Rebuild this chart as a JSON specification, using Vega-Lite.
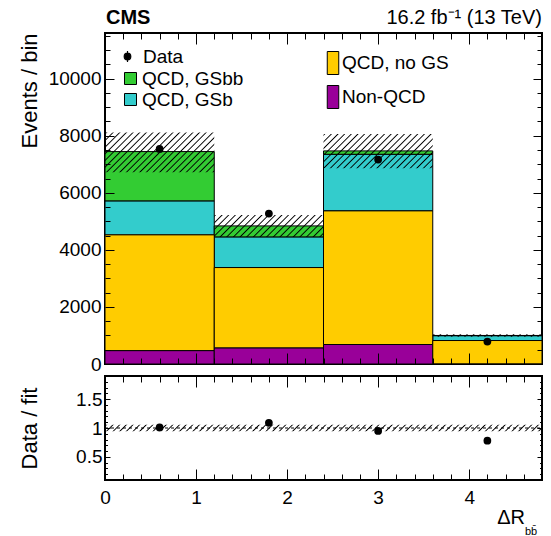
{
"$schema":"https://vega.github.io/schema/vega-lite/v6.json",
"padding":{"left":16,"top":7,"right":13,"bottom":0},
"spacing":12,
"bounds":"flush",
"datasets":{
"stack":[
{"lo":0,"hi":1.2,"comp":"Non-QCD","count":470},
{"lo":0,"hi":1.2,"comp":"QCD, no GS","count":4056},
{"lo":0,"hi":1.2,"comp":"QCD, GSb","count":1191},
{"lo":0,"hi":1.2,"comp":"QCD, GSbb","count":1727},
{"lo":1.2,"hi":2.4,"comp":"Non-QCD","count":567},
{"lo":1.2,"hi":2.4,"comp":"QCD, no GS","count":2813},
{"lo":1.2,"hi":2.4,"comp":"QCD, GSb","count":1075},
{"lo":1.2,"hi":2.4,"comp":"QCD, GSbb","count":385},
{"lo":2.4,"hi":3.6,"comp":"Non-QCD","count":683},
{"lo":2.4,"hi":3.6,"comp":"QCD, no GS","count":4683},
{"lo":2.4,"hi":3.6,"comp":"QCD, GSb","count":1984},
{"lo":2.4,"hi":3.6,"comp":"QCD, GSbb","count":118},
{"lo":3.6,"hi":4.8,"comp":"Non-QCD","count":5},
{"lo":3.6,"hi":4.8,"comp":"QCD, no GS","count":818},
{"lo":3.6,"hi":4.8,"comp":"QCD, GSb","count":170},
{"lo":3.6,"hi":4.8,"comp":"QCD, GSbb","count":7}
],
"bins":[
{"lo":0,"hi":1.2,"mid":0.6,"data":7538,"ratio":1.01,"ulo":6720,"uhi":8110},
{"lo":1.2,"hi":2.4,"mid":1.8,"data":5272,"ratio":1.09,"ulo":4455,"uhi":5226},
{"lo":2.4,"hi":3.6,"mid":3.0,"data":7163,"ratio":0.95,"ulo":6860,"uhi":8064},
{"lo":3.6,"hi":4.8,"mid":4.2,"data":788,"ratio":0.78,"ulo":955,"uhi":1045}
],
"band":[{"lo":0,"hi":4.8,"rlo":0.945,"rhi":1.055,"ref":1}]
},
"config":{
"font":"Liberation Sans",
"view":{"stroke":"black","strokeWidth":2},
"axis":{"labelColor":"black","labelFont":"Liberation Sans","labelFontSize":19,"titleColor":"black","titleFont":"Liberation Sans","titleFontSize":22,"titleFontWeight":"normal","labelOverlap":false,"labelFlush":false},
"legend":{"labelFont":"Liberation Sans","labelFontSize":19,"labelColor":"black","padding":0,"symbolOpacity":1}
},
"vconcat":[
{
"width":437,"height":331,
"resolve":{"scale":{"fill":"independent"},"axis":{"x":"independent","y":"independent"}},
"layer":[
{
"data":{"name":"stack"},
"transform":[{"stack":"count","groupby":["lo"],"as":["c0","c1"]},{"filter":{"field":"comp","oneOf":["QCD, GSbb","QCD, GSb"]}}],
"mark":{"type":"rect","stroke":"black","strokeWidth":1},
"encoding":{
"x":{"field":"lo","type":"quantitative","scale":{"domain":[0,4.8],"nice":false,"zero":false},"axis":{"orient":"bottom","values":[1,2,3,4],"labels":false,"title":null,"domain":false,"ticks":false,"grid":true,"gridColor":"black","gridOpacity":1,"gridWidth":1,"gridDash":[11,309],"zindex":2}},
"x2":{"field":"hi"},
"y":{"field":"c0","type":"quantitative","stack":null,"scale":{"domain":[0,11600],"nice":false,"zero":false},"axis":{"orient":"left","values":[0,2000,4000,6000,8000,10000],"format":"d","labelPadding":4,"domain":false,"ticks":false,"grid":true,"gridColor":"black","gridOpacity":1,"gridWidth":1,"gridDash":[9,419],"zindex":2,"title":"Events / bin","titleAnchor":"end","titleX":-69,"titleBaseline":"alphabetic"}},
"y2":{"field":"c1"},
"fill":{"field":"comp","type":"nominal","scale":{"domain":["QCD, GSbb","QCD, GSb"],"range":["#33cc33","#33cccc"]},"legend":{"orient":"none","legendX":16,"legendY":36,"title":null,"symbolType":"square","symbolSize":144,"symbolStrokeColor":"black","symbolStrokeWidth":1,"labelOffset":2,"rowPadding":1}}
}
},
{
"data":{"name":"stack"},
"transform":[{"stack":"count","groupby":["lo"],"as":["c0","c1"]},{"filter":{"field":"comp","oneOf":["QCD, no GS","Non-QCD"]}}],
"mark":{"type":"rect","stroke":"black","strokeWidth":1},
"encoding":{
"x":{"field":"lo","type":"quantitative","scale":{"domain":[0,4.8],"nice":false,"zero":false},"axis":{"orient":"bottom","values":[0.2,0.4,0.6,0.8,1.2,1.4,1.6,1.8,2.2,2.4,2.6,2.8,3.2,3.4,3.6,3.8,4.2,4.4,4.6],"labels":false,"title":null,"domain":false,"ticks":false,"grid":true,"gridColor":"black","gridOpacity":1,"gridWidth":1,"gridDash":[6,319],"zindex":2}},
"x2":{"field":"hi"},
"y":{"field":"c0","type":"quantitative","stack":null,"scale":{"domain":[0,11600],"nice":false,"zero":false},"axis":{"orient":"left","values":[500,1000,1500,2500,3000,3500,4500,5000,5500,6500,7000,7500,8500,9000,9500,10500,11000,11500],"labels":false,"title":null,"domain":false,"ticks":false,"grid":true,"gridColor":"black","gridOpacity":1,"gridWidth":1,"gridDash":[5,427],"zindex":2}},
"y2":{"field":"c1"},
"fill":{"field":"comp","type":"nominal","scale":{"domain":["QCD, no GS","Non-QCD"],"range":["#ffcc00","#990099"]},"legend":{"orient":"none","legendX":216,"legendY":18,"title":null,"symbolType":"M-0.5,-1H0.5V1H-0.5Z","symbolSize":529,"symbolStrokeColor":"black","symbolStrokeWidth":1,"labelOffset":-3,"rowPadding":6}}
}
},
{
"data":{"name":"bins"},
"transform":[{"filter":"datum.lo == 0"}],
"mark":{"type":"rect","strokeWidth":0,"fill":{"gradient":"linear","x1":0,"y1":0,"x2":1.3439,"y2":0.4879,"stops":[{"offset":0,"color":"#0000"},{"offset":0.008,"color":"#000"},{"offset":0.016,"color":"#0000"},{"offset":0.04,"color":"#0000"},{"offset":0.048,"color":"#000"},{"offset":0.056,"color":"#0000"},{"offset":0.08,"color":"#0000"},{"offset":0.088,"color":"#000"},{"offset":0.096,"color":"#0000"},{"offset":0.12,"color":"#0000"},{"offset":0.128,"color":"#000"},{"offset":0.136,"color":"#0000"},{"offset":0.16,"color":"#0000"},{"offset":0.168,"color":"#000"},{"offset":0.176,"color":"#0000"},{"offset":0.2,"color":"#0000"},{"offset":0.208,"color":"#000"},{"offset":0.216,"color":"#0000"},{"offset":0.24,"color":"#0000"},{"offset":0.248,"color":"#000"},{"offset":0.256,"color":"#0000"},{"offset":0.28,"color":"#0000"},{"offset":0.288,"color":"#000"},{"offset":0.296,"color":"#0000"},{"offset":0.32,"color":"#0000"},{"offset":0.328,"color":"#000"},{"offset":0.336,"color":"#0000"},{"offset":0.36,"color":"#0000"},{"offset":0.368,"color":"#000"},{"offset":0.376,"color":"#0000"},{"offset":0.4,"color":"#0000"},{"offset":0.408,"color":"#000"},{"offset":0.416,"color":"#0000"},{"offset":0.44,"color":"#0000"},{"offset":0.448,"color":"#000"},{"offset":0.456,"color":"#0000"},{"offset":0.48,"color":"#0000"},{"offset":0.488,"color":"#000"},{"offset":0.496,"color":"#0000"},{"offset":0.52,"color":"#0000"},{"offset":0.528,"color":"#000"},{"offset":0.536,"color":"#0000"},{"offset":0.56,"color":"#0000"},{"offset":0.568,"color":"#000"},{"offset":0.576,"color":"#0000"},{"offset":0.6,"color":"#0000"},{"offset":0.608,"color":"#000"},{"offset":0.616,"color":"#0000"},{"offset":0.64,"color":"#0000"},{"offset":0.648,"color":"#000"},{"offset":0.656,"color":"#0000"},{"offset":0.68,"color":"#0000"},{"offset":0.688,"color":"#000"},{"offset":0.696,"color":"#0000"},{"offset":0.72,"color":"#0000"},{"offset":0.728,"color":"#000"},{"offset":0.736,"color":"#0000"},{"offset":0.76,"color":"#0000"},{"offset":0.768,"color":"#000"},{"offset":0.776,"color":"#0000"},{"offset":0.8,"color":"#0000"},{"offset":0.808,"color":"#000"},{"offset":0.816,"color":"#0000"},{"offset":0.84,"color":"#0000"},{"offset":0.848,"color":"#000"},{"offset":0.856,"color":"#0000"},{"offset":0.88,"color":"#0000"},{"offset":0.888,"color":"#000"},{"offset":0.896,"color":"#0000"},{"offset":0.92,"color":"#0000"},{"offset":0.928,"color":"#000"},{"offset":0.936,"color":"#0000"},{"offset":0.96,"color":"#0000"},{"offset":0.968,"color":"#000"},{"offset":0.976,"color":"#0000"}]}},
"encoding":{
"x":{"field":"lo","type":"quantitative","scale":{"domain":[0,4.8],"nice":false,"zero":false},"axis":null},
"x2":{"field":"hi"},
"y":{"field":"ulo","type":"quantitative","scale":{"domain":[0,11600],"nice":false,"zero":false},"axis":null},
"y2":{"field":"uhi"}
}
},
{
"data":{"name":"bins"},
"transform":[{"filter":"datum.lo == 1.2"}],
"mark":{"type":"rect","strokeWidth":0,"fill":{"gradient":"linear","x1":0,"y1":0,"x2":1.4618,"y2":0.2944,"stops":[{"offset":0,"color":"#0000"},{"offset":0.008,"color":"#000"},{"offset":0.016,"color":"#0000"},{"offset":0.04,"color":"#0000"},{"offset":0.048,"color":"#000"},{"offset":0.056,"color":"#0000"},{"offset":0.08,"color":"#0000"},{"offset":0.088,"color":"#000"},{"offset":0.096,"color":"#0000"},{"offset":0.12,"color":"#0000"},{"offset":0.128,"color":"#000"},{"offset":0.136,"color":"#0000"},{"offset":0.16,"color":"#0000"},{"offset":0.168,"color":"#000"},{"offset":0.176,"color":"#0000"},{"offset":0.2,"color":"#0000"},{"offset":0.208,"color":"#000"},{"offset":0.216,"color":"#0000"},{"offset":0.24,"color":"#0000"},{"offset":0.248,"color":"#000"},{"offset":0.256,"color":"#0000"},{"offset":0.28,"color":"#0000"},{"offset":0.288,"color":"#000"},{"offset":0.296,"color":"#0000"},{"offset":0.32,"color":"#0000"},{"offset":0.328,"color":"#000"},{"offset":0.336,"color":"#0000"},{"offset":0.36,"color":"#0000"},{"offset":0.368,"color":"#000"},{"offset":0.376,"color":"#0000"},{"offset":0.4,"color":"#0000"},{"offset":0.408,"color":"#000"},{"offset":0.416,"color":"#0000"},{"offset":0.44,"color":"#0000"},{"offset":0.448,"color":"#000"},{"offset":0.456,"color":"#0000"},{"offset":0.48,"color":"#0000"},{"offset":0.488,"color":"#000"},{"offset":0.496,"color":"#0000"},{"offset":0.52,"color":"#0000"},{"offset":0.528,"color":"#000"},{"offset":0.536,"color":"#0000"},{"offset":0.56,"color":"#0000"},{"offset":0.568,"color":"#000"},{"offset":0.576,"color":"#0000"},{"offset":0.6,"color":"#0000"},{"offset":0.608,"color":"#000"},{"offset":0.616,"color":"#0000"},{"offset":0.64,"color":"#0000"},{"offset":0.648,"color":"#000"},{"offset":0.656,"color":"#0000"},{"offset":0.68,"color":"#0000"},{"offset":0.688,"color":"#000"},{"offset":0.696,"color":"#0000"},{"offset":0.72,"color":"#0000"},{"offset":0.728,"color":"#000"},{"offset":0.736,"color":"#0000"},{"offset":0.76,"color":"#0000"},{"offset":0.768,"color":"#000"},{"offset":0.776,"color":"#0000"},{"offset":0.8,"color":"#0000"},{"offset":0.808,"color":"#000"},{"offset":0.816,"color":"#0000"}]}},
"encoding":{
"x":{"field":"lo","type":"quantitative","scale":{"domain":[0,4.8],"nice":false,"zero":false},"axis":null},
"x2":{"field":"hi"},
"y":{"field":"ulo","type":"quantitative","scale":{"domain":[0,11600],"nice":false,"zero":false},"axis":null},
"y2":{"field":"uhi"}
}
},
{
"data":{"name":"bins"},
"transform":[{"filter":"datum.lo == 2.4"}],
"mark":{"type":"rect","strokeWidth":0,"fill":{"gradient":"linear","x1":0,"y1":0,"x2":1.3841,"y2":0.4353,"stops":[{"offset":0,"color":"#0000"},{"offset":0.008,"color":"#000"},{"offset":0.016,"color":"#0000"},{"offset":0.04,"color":"#0000"},{"offset":0.048,"color":"#000"},{"offset":0.056,"color":"#0000"},{"offset":0.08,"color":"#0000"},{"offset":0.088,"color":"#000"},{"offset":0.096,"color":"#0000"},{"offset":0.12,"color":"#0000"},{"offset":0.128,"color":"#000"},{"offset":0.136,"color":"#0000"},{"offset":0.16,"color":"#0000"},{"offset":0.168,"color":"#000"},{"offset":0.176,"color":"#0000"},{"offset":0.2,"color":"#0000"},{"offset":0.208,"color":"#000"},{"offset":0.216,"color":"#0000"},{"offset":0.24,"color":"#0000"},{"offset":0.248,"color":"#000"},{"offset":0.256,"color":"#0000"},{"offset":0.28,"color":"#0000"},{"offset":0.288,"color":"#000"},{"offset":0.296,"color":"#0000"},{"offset":0.32,"color":"#0000"},{"offset":0.328,"color":"#000"},{"offset":0.336,"color":"#0000"},{"offset":0.36,"color":"#0000"},{"offset":0.368,"color":"#000"},{"offset":0.376,"color":"#0000"},{"offset":0.4,"color":"#0000"},{"offset":0.408,"color":"#000"},{"offset":0.416,"color":"#0000"},{"offset":0.44,"color":"#0000"},{"offset":0.448,"color":"#000"},{"offset":0.456,"color":"#0000"},{"offset":0.48,"color":"#0000"},{"offset":0.488,"color":"#000"},{"offset":0.496,"color":"#0000"},{"offset":0.52,"color":"#0000"},{"offset":0.528,"color":"#000"},{"offset":0.536,"color":"#0000"},{"offset":0.56,"color":"#0000"},{"offset":0.568,"color":"#000"},{"offset":0.576,"color":"#0000"},{"offset":0.6,"color":"#0000"},{"offset":0.608,"color":"#000"},{"offset":0.616,"color":"#0000"},{"offset":0.64,"color":"#0000"},{"offset":0.648,"color":"#000"},{"offset":0.656,"color":"#0000"},{"offset":0.68,"color":"#0000"},{"offset":0.688,"color":"#000"},{"offset":0.696,"color":"#0000"},{"offset":0.72,"color":"#0000"},{"offset":0.728,"color":"#000"},{"offset":0.736,"color":"#0000"},{"offset":0.76,"color":"#0000"},{"offset":0.768,"color":"#000"},{"offset":0.776,"color":"#0000"},{"offset":0.8,"color":"#0000"},{"offset":0.808,"color":"#000"},{"offset":0.816,"color":"#0000"},{"offset":0.84,"color":"#0000"},{"offset":0.848,"color":"#000"},{"offset":0.856,"color":"#0000"},{"offset":0.88,"color":"#0000"},{"offset":0.888,"color":"#000"},{"offset":0.896,"color":"#0000"}]}},
"encoding":{
"x":{"field":"lo","type":"quantitative","scale":{"domain":[0,4.8],"nice":false,"zero":false},"axis":null},
"x2":{"field":"hi"},
"y":{"field":"ulo","type":"quantitative","scale":{"domain":[0,11600],"nice":false,"zero":false},"axis":null},
"y2":{"field":"uhi"}
}
},
{
"data":{"name":"bins"},
"transform":[{"filter":"datum.lo == 3.6"}],
"mark":{"type":"rect","strokeWidth":0,"fill":{"gradient":"linear","x1":0,"y1":0,"x2":1.5202,"y2":0.0358,"stops":[{"offset":0,"color":"#0000"},{"offset":0.008,"color":"#000"},{"offset":0.016,"color":"#0000"},{"offset":0.04,"color":"#0000"},{"offset":0.048,"color":"#000"},{"offset":0.056,"color":"#0000"},{"offset":0.08,"color":"#0000"},{"offset":0.088,"color":"#000"},{"offset":0.096,"color":"#0000"},{"offset":0.12,"color":"#0000"},{"offset":0.128,"color":"#000"},{"offset":0.136,"color":"#0000"},{"offset":0.16,"color":"#0000"},{"offset":0.168,"color":"#000"},{"offset":0.176,"color":"#0000"},{"offset":0.2,"color":"#0000"},{"offset":0.208,"color":"#000"},{"offset":0.216,"color":"#0000"},{"offset":0.24,"color":"#0000"},{"offset":0.248,"color":"#000"},{"offset":0.256,"color":"#0000"},{"offset":0.28,"color":"#0000"},{"offset":0.288,"color":"#000"},{"offset":0.296,"color":"#0000"},{"offset":0.32,"color":"#0000"},{"offset":0.328,"color":"#000"},{"offset":0.336,"color":"#0000"},{"offset":0.36,"color":"#0000"},{"offset":0.368,"color":"#000"},{"offset":0.376,"color":"#0000"},{"offset":0.4,"color":"#0000"},{"offset":0.408,"color":"#000"},{"offset":0.416,"color":"#0000"},{"offset":0.44,"color":"#0000"},{"offset":0.448,"color":"#000"},{"offset":0.456,"color":"#0000"},{"offset":0.48,"color":"#0000"},{"offset":0.488,"color":"#000"},{"offset":0.496,"color":"#0000"},{"offset":0.52,"color":"#0000"},{"offset":0.528,"color":"#000"},{"offset":0.536,"color":"#0000"},{"offset":0.56,"color":"#0000"},{"offset":0.568,"color":"#000"},{"offset":0.576,"color":"#0000"},{"offset":0.6,"color":"#0000"},{"offset":0.608,"color":"#000"},{"offset":0.616,"color":"#0000"},{"offset":0.64,"color":"#0000"},{"offset":0.648,"color":"#000"},{"offset":0.656,"color":"#0000"}]}},
"encoding":{
"x":{"field":"lo","type":"quantitative","scale":{"domain":[0,4.8],"nice":false,"zero":false},"axis":null},
"x2":{"field":"hi"},
"y":{"field":"ulo","type":"quantitative","scale":{"domain":[0,11600],"nice":false,"zero":false},"axis":null},
"y2":{"field":"uhi"}
}
},
{
"data":{"name":"bins"},
"mark":{"type":"circle","size":60,"opacity":1},
"encoding":{
"x":{"field":"mid","type":"quantitative","scale":{"domain":[0,4.8],"nice":false,"zero":false},"axis":null},
"y":{"field":"data","type":"quantitative","scale":{"domain":[0,11600],"nice":false,"zero":false},"axis":null},
"fill":{"datum":"Data","type":"nominal","scale":{"domain":["Data"],"range":["black"]},"legend":{"orient":"none","legendX":13,"legendY":14,"title":null,"symbolType":"M0,-1L0,1M-0.6,0A0.6,0.6 0 1,1 0.6,0A0.6,0.6 0 1,1 -0.6,0Z","symbolSize":121,"symbolStrokeColor":"black","symbolStrokeWidth":1.2,"labelOffset":6}}
}
},
{
"data":{"values":[{}]},
"mark":{"type":"text","text":"CMS","fontSize":20,"fontWeight":"bold","align":"left","baseline":"alphabetic","dx":1,"dy":-9,"color":"black"},
"encoding":{
"x":{"datum":0,"type":"quantitative","scale":{"domain":[0,4.8],"nice":false,"zero":false},"axis":null},
"y":{"datum":11600,"type":"quantitative","scale":{"domain":[0,11600],"nice":false,"zero":false},"axis":null}
}
},
{
"data":{"values":[{}]},
"mark":{"type":"text","text":"16.2 fb⁻¹ (13 TeV)","fontSize":20,"align":"right","baseline":"alphabetic","dy":-9,"color":"black"},
"encoding":{
"x":{"datum":4.8,"type":"quantitative","scale":{"domain":[0,4.8],"nice":false,"zero":false},"axis":null},
"y":{"datum":11600,"type":"quantitative","scale":{"domain":[0,11600],"nice":false,"zero":false},"axis":null}
}
}
]
},
{
"width":437,"height":104,
"resolve":{"axis":{"x":"independent","y":"independent"}},
"layer":[
{
"data":{"name":"band"},
"mark":{"type":"rect","strokeWidth":0,"fill":{"gradient":"linear","x1":0,"y1":0,"x2":1.01375,"y2":0.014754,"stops":[{"offset":0,"color":"#0000"},{"offset":0.003,"color":"#000"},{"offset":0.006,"color":"#0000"},{"offset":0.015,"color":"#0000"},{"offset":0.018,"color":"#000"},{"offset":0.021,"color":"#0000"},{"offset":0.03,"color":"#0000"},{"offset":0.033,"color":"#000"},{"offset":0.036,"color":"#0000"},{"offset":0.045,"color":"#0000"},{"offset":0.048,"color":"#000"},{"offset":0.051,"color":"#0000"},{"offset":0.06,"color":"#0000"},{"offset":0.063,"color":"#000"},{"offset":0.066,"color":"#0000"},{"offset":0.075,"color":"#0000"},{"offset":0.078,"color":"#000"},{"offset":0.081,"color":"#0000"},{"offset":0.09,"color":"#0000"},{"offset":0.093,"color":"#000"},{"offset":0.096,"color":"#0000"},{"offset":0.105,"color":"#0000"},{"offset":0.108,"color":"#000"},{"offset":0.111,"color":"#0000"},{"offset":0.12,"color":"#0000"},{"offset":0.123,"color":"#000"},{"offset":0.126,"color":"#0000"},{"offset":0.135,"color":"#0000"},{"offset":0.138,"color":"#000"},{"offset":0.141,"color":"#0000"},{"offset":0.15,"color":"#0000"},{"offset":0.153,"color":"#000"},{"offset":0.156,"color":"#0000"},{"offset":0.165,"color":"#0000"},{"offset":0.168,"color":"#000"},{"offset":0.171,"color":"#0000"},{"offset":0.18,"color":"#0000"},{"offset":0.183,"color":"#000"},{"offset":0.186,"color":"#0000"},{"offset":0.195,"color":"#0000"},{"offset":0.198,"color":"#000"},{"offset":0.201,"color":"#0000"},{"offset":0.21,"color":"#0000"},{"offset":0.213,"color":"#000"},{"offset":0.216,"color":"#0000"},{"offset":0.225,"color":"#0000"},{"offset":0.228,"color":"#000"},{"offset":0.231,"color":"#0000"},{"offset":0.24,"color":"#0000"},{"offset":0.243,"color":"#000"},{"offset":0.246,"color":"#0000"},{"offset":0.255,"color":"#0000"},{"offset":0.258,"color":"#000"},{"offset":0.261,"color":"#0000"},{"offset":0.27,"color":"#0000"},{"offset":0.273,"color":"#000"},{"offset":0.276,"color":"#0000"},{"offset":0.285,"color":"#0000"},{"offset":0.288,"color":"#000"},{"offset":0.291,"color":"#0000"},{"offset":0.3,"color":"#0000"},{"offset":0.303,"color":"#000"},{"offset":0.306,"color":"#0000"},{"offset":0.315,"color":"#0000"},{"offset":0.318,"color":"#000"},{"offset":0.321,"color":"#0000"},{"offset":0.33,"color":"#0000"},{"offset":0.333,"color":"#000"},{"offset":0.336,"color":"#0000"},{"offset":0.345,"color":"#0000"},{"offset":0.348,"color":"#000"},{"offset":0.351,"color":"#0000"},{"offset":0.36,"color":"#0000"},{"offset":0.363,"color":"#000"},{"offset":0.366,"color":"#0000"},{"offset":0.375,"color":"#0000"},{"offset":0.378,"color":"#000"},{"offset":0.381,"color":"#0000"},{"offset":0.39,"color":"#0000"},{"offset":0.393,"color":"#000"},{"offset":0.396,"color":"#0000"},{"offset":0.405,"color":"#0000"},{"offset":0.408,"color":"#000"},{"offset":0.411,"color":"#0000"},{"offset":0.42,"color":"#0000"},{"offset":0.423,"color":"#000"},{"offset":0.426,"color":"#0000"},{"offset":0.435,"color":"#0000"},{"offset":0.438,"color":"#000"},{"offset":0.441,"color":"#0000"},{"offset":0.45,"color":"#0000"},{"offset":0.453,"color":"#000"},{"offset":0.456,"color":"#0000"},{"offset":0.465,"color":"#0000"},{"offset":0.468,"color":"#000"},{"offset":0.471,"color":"#0000"},{"offset":0.48,"color":"#0000"},{"offset":0.483,"color":"#000"},{"offset":0.486,"color":"#0000"},{"offset":0.495,"color":"#0000"},{"offset":0.498,"color":"#000"},{"offset":0.501,"color":"#0000"},{"offset":0.51,"color":"#0000"},{"offset":0.513,"color":"#000"},{"offset":0.516,"color":"#0000"},{"offset":0.525,"color":"#0000"},{"offset":0.528,"color":"#000"},{"offset":0.531,"color":"#0000"},{"offset":0.54,"color":"#0000"},{"offset":0.543,"color":"#000"},{"offset":0.546,"color":"#0000"},{"offset":0.555,"color":"#0000"},{"offset":0.558,"color":"#000"},{"offset":0.561,"color":"#0000"},{"offset":0.57,"color":"#0000"},{"offset":0.573,"color":"#000"},{"offset":0.576,"color":"#0000"},{"offset":0.585,"color":"#0000"},{"offset":0.588,"color":"#000"},{"offset":0.591,"color":"#0000"},{"offset":0.6,"color":"#0000"},{"offset":0.603,"color":"#000"},{"offset":0.606,"color":"#0000"},{"offset":0.615,"color":"#0000"},{"offset":0.618,"color":"#000"},{"offset":0.621,"color":"#0000"},{"offset":0.63,"color":"#0000"},{"offset":0.633,"color":"#000"},{"offset":0.636,"color":"#0000"},{"offset":0.645,"color":"#0000"},{"offset":0.648,"color":"#000"},{"offset":0.651,"color":"#0000"},{"offset":0.66,"color":"#0000"},{"offset":0.663,"color":"#000"},{"offset":0.666,"color":"#0000"},{"offset":0.675,"color":"#0000"},{"offset":0.678,"color":"#000"},{"offset":0.681,"color":"#0000"},{"offset":0.69,"color":"#0000"},{"offset":0.693,"color":"#000"},{"offset":0.696,"color":"#0000"},{"offset":0.705,"color":"#0000"},{"offset":0.708,"color":"#000"},{"offset":0.711,"color":"#0000"},{"offset":0.72,"color":"#0000"},{"offset":0.723,"color":"#000"},{"offset":0.726,"color":"#0000"},{"offset":0.735,"color":"#0000"},{"offset":0.738,"color":"#000"},{"offset":0.741,"color":"#0000"},{"offset":0.75,"color":"#0000"},{"offset":0.753,"color":"#000"},{"offset":0.756,"color":"#0000"},{"offset":0.765,"color":"#0000"},{"offset":0.768,"color":"#000"},{"offset":0.771,"color":"#0000"},{"offset":0.78,"color":"#0000"},{"offset":0.783,"color":"#000"},{"offset":0.786,"color":"#0000"},{"offset":0.795,"color":"#0000"},{"offset":0.798,"color":"#000"},{"offset":0.801,"color":"#0000"},{"offset":0.81,"color":"#0000"},{"offset":0.813,"color":"#000"},{"offset":0.816,"color":"#0000"},{"offset":0.825,"color":"#0000"},{"offset":0.828,"color":"#000"},{"offset":0.831,"color":"#0000"},{"offset":0.84,"color":"#0000"},{"offset":0.843,"color":"#000"},{"offset":0.846,"color":"#0000"},{"offset":0.855,"color":"#0000"},{"offset":0.858,"color":"#000"},{"offset":0.861,"color":"#0000"},{"offset":0.87,"color":"#0000"},{"offset":0.873,"color":"#000"},{"offset":0.876,"color":"#0000"},{"offset":0.885,"color":"#0000"},{"offset":0.888,"color":"#000"},{"offset":0.891,"color":"#0000"},{"offset":0.9,"color":"#0000"},{"offset":0.903,"color":"#000"},{"offset":0.906,"color":"#0000"},{"offset":0.915,"color":"#0000"},{"offset":0.918,"color":"#000"},{"offset":0.921,"color":"#0000"},{"offset":0.93,"color":"#0000"},{"offset":0.933,"color":"#000"},{"offset":0.936,"color":"#0000"},{"offset":0.945,"color":"#0000"},{"offset":0.948,"color":"#000"},{"offset":0.951,"color":"#0000"},{"offset":0.96,"color":"#0000"},{"offset":0.963,"color":"#000"},{"offset":0.966,"color":"#0000"},{"offset":0.975,"color":"#0000"},{"offset":0.978,"color":"#000"},{"offset":0.981,"color":"#0000"},{"offset":0.99,"color":"#0000"},{"offset":0.993,"color":"#000"},{"offset":0.996,"color":"#0000"}]}},
"encoding":{
"x":{"field":"lo","type":"quantitative","scale":{"domain":[0,4.8],"nice":false,"zero":false},"axis":{"orient":"bottom","values":[0,1,2,3,4],"format":"d","labelPadding":8,"title":null,"domain":false,"ticks":false,"grid":true,"gridColor":"black","gridOpacity":1,"gridWidth":1,"gridDash":[11,82],"zindex":2}},
"x2":{"field":"hi"},
"y":{"field":"rlo","type":"quantitative","scale":{"domain":[0.1,1.9],"nice":false,"zero":false},"axis":{"orient":"left","values":[0.5,1,1.5],"format":"~g","labelPadding":3,"domain":false,"ticks":false,"grid":true,"gridColor":"black","gridOpacity":1,"gridWidth":1,"gridDash":[5,427],"zindex":2,"title":"Data / fit","titleX":-69,"titleBaseline":"alphabetic"}},
"y2":{"field":"rhi"}
}
},
{
"data":{"name":"band"},
"mark":{"type":"rule","color":"black","strokeWidth":1,"strokeDash":[3,3]},
"encoding":{
"x":{"field":"lo","type":"quantitative","scale":{"domain":[0,4.8],"nice":false,"zero":false},"axis":{"orient":"bottom","values":[0.2,0.4,0.6,0.8,1.2,1.4,1.6,1.8,2.2,2.4,2.6,2.8,3.2,3.4,3.6,3.8,4.2,4.4,4.6],"labels":false,"title":null,"domain":false,"ticks":false,"grid":true,"gridColor":"black","gridOpacity":1,"gridWidth":1,"gridDash":[6,92],"zindex":2}},
"x2":{"field":"hi"},
"y":{"field":"ref","type":"quantitative","scale":{"domain":[0.1,1.9],"nice":false,"zero":false},"axis":{"orient":"left","values":[0.2,0.3,0.4,0.6,0.7,0.8,0.9,1.1,1.2,1.3,1.4,1.6,1.7,1.8],"labels":false,"title":null,"domain":false,"ticks":false,"grid":true,"gridColor":"black","gridOpacity":1,"gridWidth":1,"gridDash":[2.5,432],"zindex":2}}
}
},
{
"data":{"name":"bins"},
"mark":{"type":"circle","size":60,"opacity":1,"color":"black"},
"encoding":{
"x":{"field":"mid","type":"quantitative","scale":{"domain":[0,4.8],"nice":false,"zero":false},"axis":null},
"y":{"field":"ratio","type":"quantitative","scale":{"domain":[0.1,1.9],"nice":false,"zero":false},"axis":null}
}
},
{
"data":{"values":[{}]},
"mark":{"type":"text","text":"ΔR","fontSize":20,"align":"right","baseline":"alphabetic","dx":-17,"dy":44,"color":"black"},
"encoding":{
"x":{"datum":4.8,"type":"quantitative","scale":{"domain":[0,4.8],"nice":false,"zero":false},"axis":null},
"y":{"datum":0.1,"type":"quantitative","scale":{"domain":[0.1,1.9],"nice":false,"zero":false},"axis":null}
}
},
{
"data":{"values":[{}]},
"mark":{"type":"text","text":"bb̄","fontSize":11,"align":"left","baseline":"alphabetic","dx":-17,"dy":55,"color":"black"},
"encoding":{
"x":{"datum":4.8,"type":"quantitative","scale":{"domain":[0,4.8],"nice":false,"zero":false},"axis":null},
"y":{"datum":0.1,"type":"quantitative","scale":{"domain":[0.1,1.9],"nice":false,"zero":false},"axis":null}
}
}
]
}
]
}
